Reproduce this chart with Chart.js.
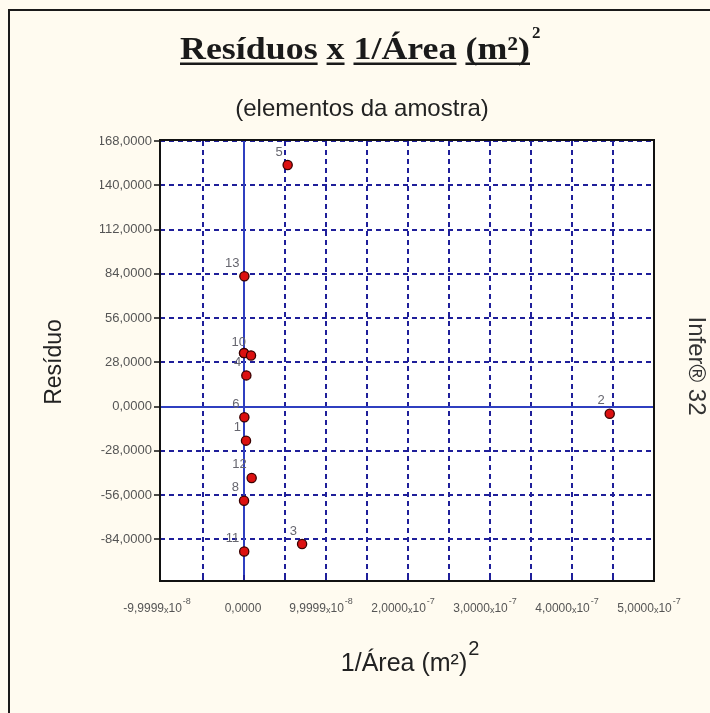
<!DOCTYPE html>
<html>
<head>
<meta charset="utf-8">
<script src="https://cdn.jsdelivr.net/npm/chart.js@4"></script>
<style>
html,body{margin:0;padding:0;background:#fffbf0;}
canvas{display:block;}
</style>
</head>
<body>
<canvas id="c" width="710" height="713"></canvas>
<script>
// ---------- data ----------
const pointIds    = ['1','2','3','4','5','6','7','8','9','10','11','12','13'];
const pointLabels = ['1','2','3','4','5','6','','8','','10','11','12','13'];
const xValues = [0.024e-7, 4.46e-7, 0.708e-7, 0.028e-7, 0.532e-7, 0.004e-7, 0.0, 0.0, 0.0, 0.085e-7, 0.002e-7, 0.093e-7, 0.004e-7];
const yValues = [-21.6, -4.6, -87.0, 19.7, 152.8, -6.8, 33.8, -59.6, 33.8, 32.3, -91.7, -45.2, 82.4];

const yTickValues = [168, 140, 112, 84, 56, 28, 0, -28, -56, -84];
const yTickLabels = ['168,0000','140,0000','112,0000','84,0000','56,0000','28,0000','0,0000','-28,0000','-56,0000','-84,0000'];

const xGridValues = [-0.5e-7, 0, 0.5e-7, 1e-7, 1.5e-7, 2e-7, 2.5e-7, 3e-7, 3.5e-7, 4e-7, 4.5e-7];
const xLabelValues = [-1e-7, 0, 1e-7, 2e-7, 3e-7, 4e-7, 5e-7];
const xLabelMantissa = ['-9,9999','0,0000','9,9999','2,0000','3,0000','4,0000','5,0000'];
const xLabelExponent = ['-8','','-8','-7','-7','-7','-7'];

const titleWords = ['Resíduos','x','1/Área','(m²)'];
const titleSup = '2';
const subtitleText = '(elementos da amostra)';
const xTitleText = '1/Área (m²)';
const xTitleSup = '2';
const yTitleText = 'Resíduo';
const sideText = 'Infer® 32';

const X_MIN = -1.025e-7, X_MAX = 5e-7;
const Y_MIN = -110.4, Y_MAX = 168;

// ---------- style ----------
const BG = '#fffbf0';
const GRID = '#1f1f9a';
const ZERO = '#2f3fc0';
const SANS = '"Liberation Sans", Arial, sans-serif';
const SERIF = '"Liberation Serif", "Times New Roman", serif';

function drawTitle(ctx){
  ctx.save();
  ctx.font = 'bold 32px ' + SERIF;
  ctx.fillStyle = '#1a1a1a';
  ctx.textBaseline = 'alphabetic';
  ctx.textAlign = 'left';
  const space = ctx.measureText(' ').width;
  let total = 0;
  titleWords.forEach((w,i)=>{ total += ctx.measureText(w).width + (i ? space : 0); });
  const targetW = 350, left = 180, base = 59;
  const sx = targetW / total;
  ctx.translate(left, base);
  ctx.scale(sx, 1);
  let x = 0;
  titleWords.forEach((w,i)=>{
    if (i) x += space;
    const ww = ctx.measureText(w).width;
    ctx.fillText(w, x, 0);
    ctx.fillRect(x, 3.5, ww, 2.5);
    x += ww;
  });
  ctx.restore();
  ctx.save();
  ctx.font = 'bold 17px ' + SERIF;
  ctx.fillStyle = '#1a1a1a';
  ctx.textAlign = 'left';
  ctx.fillText(titleSup, left + x * sx + 2, base - 21);
  ctx.restore();
}

const decor = {
  id: 'decor',
  beforeDraw(chart){
    const ctx = chart.ctx, a = chart.chartArea;
    ctx.save();
    ctx.fillStyle = BG;
    ctx.fillRect(0, 0, chart.width, chart.height);
    ctx.fillStyle = '#ffffff';
    ctx.fillRect(a.left, a.top, a.right - a.left, a.bottom - a.top);
    ctx.strokeStyle = '#1a1a1a';
    ctx.lineWidth = 2;
    ctx.beginPath();
    ctx.moveTo(9, 713); ctx.lineTo(9, 10); ctx.lineTo(710, 10);
    ctx.stroke();
    ctx.restore();
  },
  beforeDatasetsDraw(chart){
    const ctx = chart.ctx, a = chart.chartArea;
    const xs = chart.scales.x, ys = chart.scales.y;
    ctx.save();
    ctx.strokeStyle = ZERO;
    ctx.lineWidth = 2;
    const x0 = Math.round(xs.getPixelForValue(0));
    const y0 = Math.round(ys.getPixelForValue(0));
    ctx.beginPath();
    ctx.moveTo(x0, a.top); ctx.lineTo(x0, a.bottom);
    ctx.moveTo(a.left, y0); ctx.lineTo(a.right, y0);
    ctx.stroke();
    // inward tick marks on bottom axis
    ctx.strokeStyle = GRID;
    ctx.lineWidth = 2;
    xGridValues.forEach(v=>{
      const px = Math.round(xs.getPixelForValue(v));
      ctx.beginPath(); ctx.moveTo(px, a.bottom); ctx.lineTo(px, a.bottom - 6); ctx.stroke();
    });
    ctx.restore();
  },
  afterDatasetsDraw(chart){
    const ctx = chart.ctx, a = chart.chartArea;
    ctx.save();
    ctx.strokeStyle = '#111111';
    ctx.lineWidth = 2;
    ctx.strokeRect(a.left, a.top - 1, a.right - a.left, a.bottom - a.top + 1);
    // point labels
    const meta = chart.getDatasetMeta(0);
    ctx.font = '13px ' + SANS;
    ctx.fillStyle = '#66666f';
    ctx.textAlign = 'right';
    ctx.textBaseline = 'alphabetic';
    meta.data.forEach((el,i)=>{
      const t = pointLabels[i];
      if (t) ctx.fillText(t, el.x - 5, el.y - 9.5);
    });
    ctx.restore();
  },
  afterDraw(chart){
    const ctx = chart.ctx;
    const xs = chart.scales.x;
    drawTitle(ctx);
    ctx.save();
    // subtitle
    ctx.font = '24px ' + SANS;
    ctx.fillStyle = '#222222';
    ctx.textAlign = 'center';
    ctx.textBaseline = 'alphabetic';
    ctx.fillText(subtitleText, 362, 116);
    // x tick labels
    ctx.fillStyle = '#555555';
    ctx.textAlign = 'left';
    xLabelValues.forEach((v,i)=>{
      const px = xs.getPixelForValue(v);
      const m = xLabelMantissa[i], e = xLabelExponent[i];
      const base = 612;
      if (!e){
        ctx.font = '12px ' + SANS;
        const w = ctx.measureText(m).width;
        ctx.fillText(m, px - w/2 - 1, base);
        return;
      }
      ctx.font = '12px ' + SANS; const wm = ctx.measureText(m).width; const w10 = ctx.measureText('10').width;
      ctx.font = '9px ' + SANS; const wx = ctx.measureText('x').width; const we = ctx.measureText(e).width;
      const total = wm + wx + w10 + we + 1;
      let x = px - total/2 - 5;
      ctx.font = '12px ' + SANS; ctx.fillText(m, x, base); x += wm;
      ctx.font = '9px ' + SANS; ctx.fillText('x', x, base + 1); x += wx;
      ctx.font = '12px ' + SANS; ctx.fillText('10', x, base); x += w10 + 1;
      ctx.font = '9px ' + SANS; ctx.fillText(e, x, base - 8);
    });
    // x title
    ctx.fillStyle = '#222222';
    ctx.font = '25px ' + SANS;
    const wt = ctx.measureText(xTitleText).width;
    const xl = 404 - wt/2;
    ctx.fillText(xTitleText, xl, 671);
    ctx.font = '20px ' + SANS;
    ctx.fillText(xTitleSup, xl + wt + 1, 655);
    ctx.restore();
    // y title
    ctx.save();
    ctx.translate(61, 362);
    ctx.rotate(-Math.PI/2);
    ctx.font = '23px ' + SANS;
    ctx.fillStyle = '#222222';
    ctx.textAlign = 'center';
    ctx.textBaseline = 'alphabetic';
    ctx.fillText(yTitleText, 0, 0);
    ctx.restore();
    // side text
    ctx.save();
    ctx.translate(689, 366);
    ctx.rotate(Math.PI/2);
    ctx.font = '24px ' + SANS;
    ctx.fillStyle = '#333333';
    ctx.textAlign = 'center';
    ctx.textBaseline = 'alphabetic';
    ctx.fillText(sideText, 0, 0);
    ctx.restore();
  }
};

const points = xValues.map((x,i)=>({x:x, y:yValues[i], id:pointIds[i]}));

new Chart(document.getElementById('c'), {
  type: 'scatter',
  data: {
    datasets: [{
      label: 'Resíduos',
      data: points,
      pointStyle: 'circle',
      pointRadius: 4.6,
      backgroundColor: '#dc1010',
      borderColor: '#3a0000',
      borderWidth: 1.3
    }]
  },
  options: {
    responsive: false,
    animation: false,
    devicePixelRatio: 1,
    events: [],
    layout: { padding: { left: 100, top: 141, right: 56, bottom: 0 } },
    plugins: { legend: { display: false }, title: { display: false }, tooltip: { enabled: false } },
    scales: {
      x: {
        type: 'linear',
        min: X_MIN, max: X_MAX,
        afterBuildTicks: s => { s.ticks = xGridValues.map(v=>({value:v})); },
        afterFit: s => { s.height = 132; },
        ticks: { display: false },
        grid: { color: GRID, lineWidth: 2, drawTicks: false },
        border: { display: false, dash: [5,4] }
      },
      y: {
        type: 'linear',
        min: Y_MIN, max: Y_MAX,
        afterBuildTicks: s => { s.ticks = yTickValues.map(v=>({value:v})); },
        afterFit: s => { s.width = 60; },
        ticks: {
          callback: v => { const k = yTickValues.indexOf(v); return k >= 0 ? yTickLabels[k] : ''; },
          color: '#555555',
          font: { family: SANS, size: 13 },
          padding: 2
        },
        grid: { color: GRID, lineWidth: 2, tickLength: 6, tickColor: '#111111', tickWidth: 1.5 },
        border: { display: false, dash: [5,4] }
      }
    }
  },
  plugins: [decor]
});
</script>
</body>
</html>
